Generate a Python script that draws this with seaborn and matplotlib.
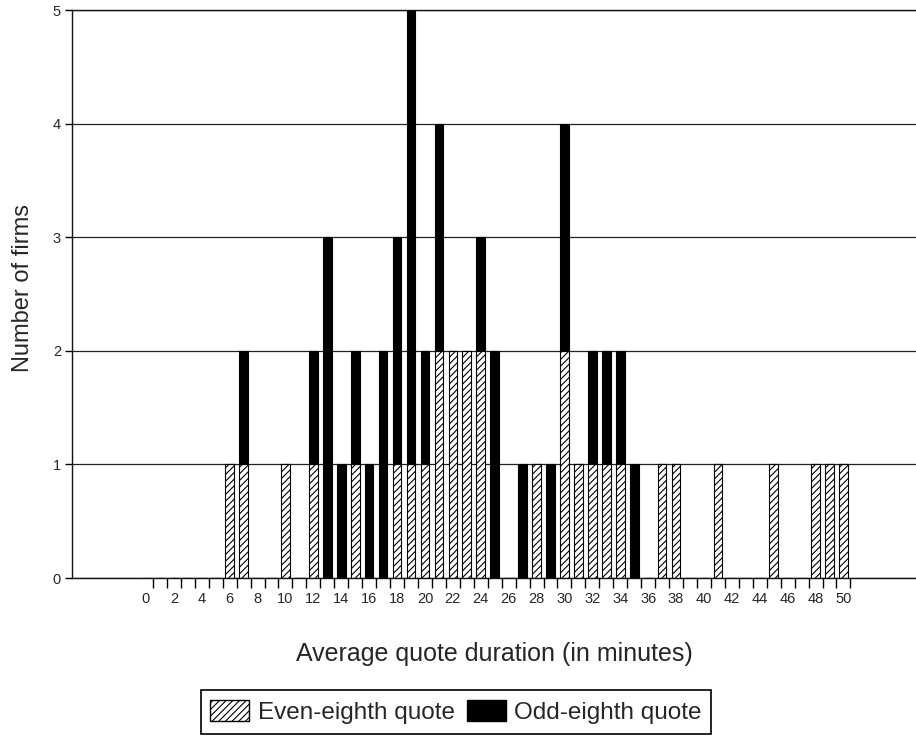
import matplotlib
matplotlib.use('Agg')
import matplotlib.pyplot as plt
from matplotlib.patches import Patch
import numpy as np
import pandas as pd
import seaborn as sns

# Average quote duration categories (minutes) and number of firms per category
durations = list(range(0, 51))
even_counts = [0, 0, 0, 0, 0, 0, 1, 1, 0, 0,
               1, 0, 1, 0, 0, 1, 0, 0, 1, 1,
               1, 2, 2, 2, 2, 0, 0, 0, 1, 0,
               2, 1, 1, 1, 1, 0, 0, 1, 1, 0,
               0, 1, 0, 0, 0, 1, 0, 0, 1, 1,
               1]
odd_counts = [0, 0, 0, 0, 0, 0, 0, 1, 0, 0,
              0, 0, 1, 3, 1, 1, 1, 2, 2, 4,
              1, 2, 0, 0, 1, 2, 0, 1, 0, 1,
              2, 0, 1, 1, 1, 1, 0, 0, 0, 0,
              0, 0, 0, 0, 0, 0, 0, 0, 0, 0,
              0]
series = ['Even-eighth quote', 'Odd-eighth quote']
x_ticks = list(range(0, 51, 2))

df = pd.concat([
    pd.DataFrame({'duration': durations, 'firms': even_counts, 'quote': series[0]}),
    pd.DataFrame({'duration': durations, 'firms': odd_counts, 'quote': series[1]}),
])

sns.set_style('white')
plt.rcParams['font.family'] = ['Liberation Sans', 'DejaVu Sans']
plt.rcParams['hatch.linewidth'] = 0.8

fig = plt.figure(figsize=(9.16, 7.56), dpi=100)
ax = fig.add_axes([72 / 916, 178 / 756, 844 / 916, 568 / 756])

# stacked bars: last hue level ends up at the bottom
sns.histplot(data=df, x='duration', weights='firms', hue='quote',
             hue_order=[series[1], series[0]], multiple='stack',
             discrete=True, shrink=0.62, alpha=1,
             palette={series[0]: 'white', series[1]: 'black'},
             edgecolor='black', linewidth=0.8, legend=False, ax=ax)

for p in ax.patches:
    if p.get_facecolor()[0] > 0.5:
        p.set_hatch('/////')

ax.set_xlim(-5.3, 55.2)
ax.set_ylim(0, 5)
ax.set_xticks(x_ticks)
ax.set_xticklabels([str(t) for t in x_ticks])
ax.set_xticks(np.arange(0.5, 51, 1), minor=True)
ax.tick_params(axis='x', which='major', length=0, pad=10, labelsize=10.5)
ax.tick_params(axis='x', which='minor', length=7, width=1, direction='out',
               color='black', bottom=True)
ax.set_yticks(range(0, 6))
ax.tick_params(axis='y', length=5, width=1, direction='out', color='black',
               labelsize=10.5, pad=3, left=True)

ax.yaxis.grid(True, color='#222222', linewidth=0.9)
ax.set_axisbelow(True)
ax.spines['right'].set_visible(False)
for s in ['left', 'bottom', 'top']:
    ax.spines[s].set_color('#111111')
    ax.spines[s].set_linewidth(1)

ax.set_ylabel('Number of firms', fontsize=17)
ax.yaxis.set_label_coords(-0.045, 0.51)
ax.set_xlabel('Average quote duration (in minutes)', fontsize=18)
ax.xaxis.set_label_coords(0.5, -0.112)

handles = [Patch(facecolor='white', edgecolor='black', hatch='/////', label=series[0]),
           Patch(facecolor='black', edgecolor='black', label=series[1])]
leg = fig.legend(handles=handles, loc='center', bbox_to_anchor=(456 / 916, 1 - 712 / 756),
                 ncol=2, fontsize=17.5, frameon=True, fancybox=False,
                 edgecolor='black', framealpha=1, handlelength=1.6, handleheight=0.95,
                 handletextpad=0.35, columnspacing=0.5, borderpad=0.4,
                 borderaxespad=0)
leg.get_frame().set_linewidth(1.2)

fig.savefig('out.png', dpi=100)
